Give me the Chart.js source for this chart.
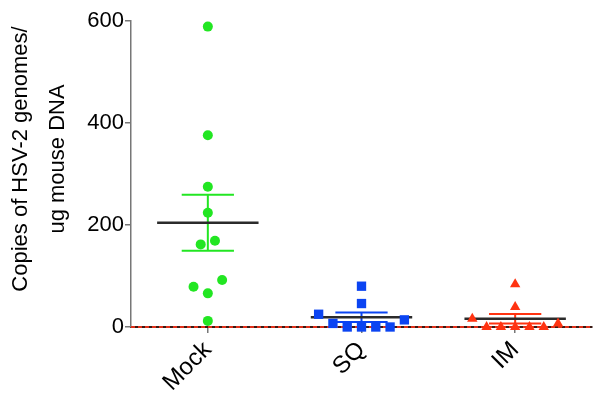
<!DOCTYPE html>
<html>
<head>
<meta charset="utf-8">
<script src="https://cdn.jsdelivr.net/npm/chart.js@4"></script>
<style>
html,body{margin:0;padding:0;background:#fff;}
#wrap{width:601px;height:400px;position:relative;}
</style>
</head>
<body>
<div id="wrap"><canvas id="c" width="601" height="400"></canvas></div>
<script>
const categories = ['Mock', 'SQ', 'IM'];
const mockValues = [589, 376, 275, 224, 169, 162, 92, 79, 66, 12];
const sqValues = [80, 46, 25, 7, 0, 0, 0, 0, 14];
const imValues = [84, 39, 16, 0, 0, 0, 0, 0, 7];
// column slot of each point (points with close values spread sideways)
const mockSlots = [0, 0, 0, 0, 0.5, -0.5, 1, -1, 0, 0];
const sqSlots = [0, 0, -3, -2, -1, 0, 1, 2, 3];
const imSlots = [0, 0, -3, -2, -1, 0, 1, 2, 3];
const yTicks = [0, 200, 400, 600];
const yTitle = ['Copies of HSV-2 genomes/', 'ug mouse DNA'];

const FONT = "'Liberation Sans', Arial, Helvetica, sans-serif";
const SLOT = 0.093;       // x units per marker slot
const MEAN_HALF = 0.33;
const CAP_HALF = 0.17;

const groups = [
  {values: mockValues, slots: mockSlots, color: '#22e622', style: 'circle', radius: 5},
  {values: sqValues, slots: sqSlots, color: '#0b44f2', style: 'rect', radius: 6.6},
  {values: imValues, slots: imSlots, color: '#ff3311', style: 'triangle', radius: 6}
];

function stats(v) {
  const n = v.length;
  const m = v.reduce((a, b) => a + b, 0) / n;
  const sd = Math.sqrt(v.reduce((a, b) => a + (b - m) * (b - m), 0) / (n - 1));
  return {mean: m, sem: sd / Math.sqrt(n)};
}

const datasets = [];
// reference dashed line at zero
datasets.push({
  type: 'line', data: [{x: 0.5, y: 0}, {x: 3.5, y: 0}],
  borderColor: '#e0301a', borderWidth: 2.2, borderDash: [4, 3],
  pointRadius: 0, clip: false, order: 5
});
groups.forEach((g, i) => {
  const cx = i + 1;
  const s = stats(g.values);
  datasets.push({
    type: 'scatter',
    data: g.values.map((v, k) => ({x: cx + g.slots[k] * SLOT, y: v})),
    pointStyle: g.style, pointRadius: g.radius, pointHoverRadius: g.radius,
    backgroundColor: g.color, borderColor: g.color, borderWidth: 0,
    clip: false, order: 2
  });
  // mean line
  datasets.push({
    type: 'line', data: [{x: cx - MEAN_HALF, y: s.mean}, {x: cx + MEAN_HALF, y: s.mean}],
    borderColor: '#2b2b2b', borderWidth: 2.5, pointRadius: 0, clip: false, order: 3
  });
  // SEM: vertical + caps
  datasets.push({
    type: 'line', data: [{x: cx, y: s.mean - s.sem}, {x: cx, y: s.mean + s.sem}],
    borderColor: g.color, borderWidth: 2, pointRadius: 0, clip: false, order: 4
  });
  [s.mean - s.sem, s.mean + s.sem].forEach(yv => {
    datasets.push({
      type: 'line', data: [{x: cx - CAP_HALF, y: yv}, {x: cx + CAP_HALF, y: yv}],
      borderColor: g.color, borderWidth: 2, pointRadius: 0, clip: false, order: 4
    });
  });
});

const titlePlugin = {
  id: 'yTitle',
  afterDraw(chart) {
    const ctx = chart.ctx;
    ctx.save();
    ctx.fillStyle = '#000';
    ctx.font = '22px ' + FONT;
    ctx.textAlign = 'center';
    ctx.textBaseline = 'alphabetic';
    const cy = 159;
    const baselines = [27, 64];
    yTitle.forEach((t, i) => {
      ctx.save();
      ctx.translate(baselines[i], cy);
      ctx.rotate(-Math.PI / 2);
      ctx.fillText(t, 0, 0);
      ctx.restore();
    });
    ctx.restore();
  }
};

new Chart(document.getElementById('c'), {
  type: 'scatter',
  data: {datasets},
  plugins: [titlePlugin],
  options: {
    responsive: false,
    animation: false,
    events: [],
    layout: {padding: {left: 70, top: 21, right: 9, bottom: 0}},
    plugins: {legend: {display: false}, tooltip: {enabled: false}},
    scales: {
      x: {
        type: 'linear', min: 0.5, max: 3.5,
        afterBuildTicks: (sc) => { sc.ticks = categories.map((c, i) => ({value: i + 1})); },
        afterFit: (sc) => { sc.height = 73; },
        ticks: {
          autoSkip: false, minRotation: 45, maxRotation: 45, padding: 3,
          color: '#000', font: {family: FONT, size: 24},
          callback: (v) => categories[Math.round(v) - 1]
        },
        grid: {drawOnChartArea: false, drawTicks: true, tickLength: 6, color: '#777', lineWidth: 1.5},
        border: {display: true, color: '#3a1a14', width: 2}
      },
      y: {
        min: 0, max: 600,
        afterBuildTicks: (sc) => { sc.ticks = yTicks.map(v => ({value: v})); },
        afterFit: (sc) => { sc.width = 61; },
        ticks: {color: '#000', font: {family: FONT, size: 22}, padding: 1},
        grid: {drawOnChartArea: false, drawTicks: true, tickLength: 6, color: '#777', lineWidth: 1.5},
        border: {display: true, color: '#777', width: 1.5}
      }
    }
  }
});
</script>
</body>
</html>
